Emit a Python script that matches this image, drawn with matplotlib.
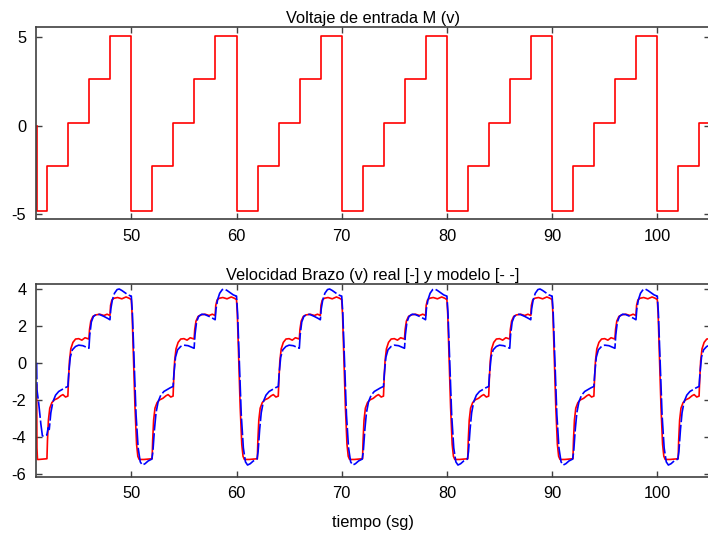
import numpy as np
import matplotlib
matplotlib.use("Agg")
import matplotlib.pyplot as plt

plt.rcParams['font.family'] = ['Liberation Sans', 'DejaVu Sans']
plt.rcParams['axes.unicode_minus'] = False

# ---------------- data ----------------
t_start, t_end = 41.0, 105.0
cycle_starts = [40, 50, 60, 70, 80, 90, 100]

# input voltage: staircase, 2 s per level, 10 s period
input_step_rel = [0, 2, 4, 6, 8]
input_levels = [-4.8, -2.3, 0.15, 2.6, 5.05]
input_initial = 0.0

# measured arm velocity (one period, relative to the drop)
real_rel_t = [0.00, 0.08, 0.20, 0.35, 0.50, 0.62, 0.75, 1.20, 1.60, 1.98,
              2.03, 2.12, 2.25, 2.45, 2.70, 3.00, 3.30, 3.50, 3.75, 3.97,
              4.03, 4.12, 4.25, 4.45, 4.70, 5.00, 5.30, 5.60, 5.97,
              6.03, 6.15, 6.35, 6.60, 7.00, 7.40, 7.70, 7.97,
              8.03, 8.15, 8.35, 8.70, 9.10, 9.50, 9.80, 9.97]
real_rel_v = [3.40, 2.60, 0.40, -2.40, -4.40, -5.05, -5.22, -5.22, -5.20, -5.18,
              -4.20, -3.10, -2.45, -2.15, -2.00, -1.92, -1.78, -1.72, -1.85, -1.80,
              -0.90, 0.10, 0.75, 1.10, 1.28, 1.30, 1.22, 1.35, 1.28,
              1.80, 2.25, 2.50, 2.58, 2.62, 2.55, 2.62, 2.55,
              3.10, 3.38, 3.48, 3.52, 3.45, 3.55, 3.48, 3.42]
real_first_t = [41.00, 41.03, 41.08]
real_first_v = [-1.20, -4.60, -5.22]

# model velocity (one period, relative to the drop)
model_rel_t = [0.00, 0.10, 0.25, 0.45, 0.65, 0.85, 1.05, 1.30, 1.60, 1.95,
               2.05, 2.20, 2.35, 2.55, 2.80, 3.10, 3.40, 3.70, 3.97,
               4.05, 4.20, 4.40, 4.70, 5.00, 5.40, 5.80, 5.97,
               6.05, 6.20, 6.40, 6.70, 7.00, 7.40, 7.80, 7.97,
               8.05, 8.20, 8.40, 8.65, 8.85, 9.10, 9.40, 9.70, 9.97]
model_rel_v = [3.60, 2.70, 0.30, -2.80, -4.60, -5.35, -5.52, -5.45, -5.30, -5.20,
               -4.80, -3.60, -2.70, -2.10, -1.75, -1.55, -1.45, -1.35, -1.28,
               -0.60, 0.30, 0.70, 0.88, 0.95, 0.92, 0.82, 0.78,
               1.50, 2.20, 2.50, 2.62, 2.60, 2.50, 2.38, 2.32,
               2.90, 3.40, 3.75, 3.95, 3.98, 3.90, 3.78, 3.66, 3.60]
model_first_t = [41.00, 41.03, 41.20, 41.40, 41.55, 41.80, 41.97, 42.10]
model_first_v = [0.00, -1.45, -2.20, -3.30, -3.95, -3.95, -3.90, -3.50]

# ---------------- build series ----------------
t_in, v_in = [t_start], [input_initial]
for T in cycle_starts:
    for rt, lv in zip(input_step_rel, input_levels):
        t = T + rt
        if t < t_start:
            t = t_start + 0.02
        if t > t_end:
            break
        t_in.append(t)
        v_in.append(lv)
t_in.append(t_end + 0.5)
v_in.append(v_in[-1])


def build(first_t, first_v, rel_t, rel_v, skip_rel):
    tt, vv = list(first_t), list(first_v)
    for T in cycle_starts:
        for rt, rv in zip(rel_t, rel_v):
            if T == cycle_starts[0] and rt < skip_rel:
                continue
            t = T + rt
            if t <= tt[-1] or t > t_end + 0.5:
                continue
            tt.append(t)
            vv.append(rv)
    return tt, vv


t_real, v_real = build(real_first_t, real_first_v, real_rel_t, real_rel_v, 1.1)
t_mod, v_mod = build(model_first_t, model_first_v, model_rel_t, model_rel_v, 2.2)

# ---------------- figure ----------------
fig = plt.figure(figsize=(7.08, 5.36), dpi=100)
W, H = 708.0, 536.0
ax1 = fig.add_axes([36 / W, 1 - 219.3 / H, (709.5 - 36) / W, (219.3 - 26.7) / H])
ax2 = fig.add_axes([36 / W, 1 - 476.7 / H, (709.5 - 36) / W, (476.7 - 284.0) / H])

frame_col = '#404040'
fs = 11.8

ax1.plot(t_in, v_in, color='#ff0000', lw=1.2, drawstyle='steps-post')
ax1.set_title('Voltaje de entrada M (v)', fontsize=fs, pad=3)
ax1.set_ylim(-5.27, 5.56)
ax1.set_yticks([-5, 0, 5])

ax2.plot(t_real, v_real, color='#ff0000', lw=1.2)
ax2.plot(t_mod, v_mod, color='#0000ff', lw=1.2, dashes=(10, 1.6))
ax2.set_title('Velocidad Brazo (v) real [-] y modelo [- -]', fontsize=fs, pad=3)
ax2.set_ylim(-6.15, 4.25)
ax2.set_yticks([-6, -4, -2, 0, 2, 4])
ax2.set_xlabel('tiempo (sg)', fontsize=fs, labelpad=10)

for ax in (ax1, ax2):
    ax.set_xlim(40.94, 104.96)
    ax.set_xticks([50, 60, 70, 80, 90, 100])
    ax.tick_params(direction='in', top=True, right=True, length=4, width=1.0,
                   color=frame_col, labelsize=fs, pad=7)
    for s in ax.spines.values():
        s.set_color(frame_col)
        s.set_linewidth(1.2)

fig.savefig('out.png', dpi=100)
